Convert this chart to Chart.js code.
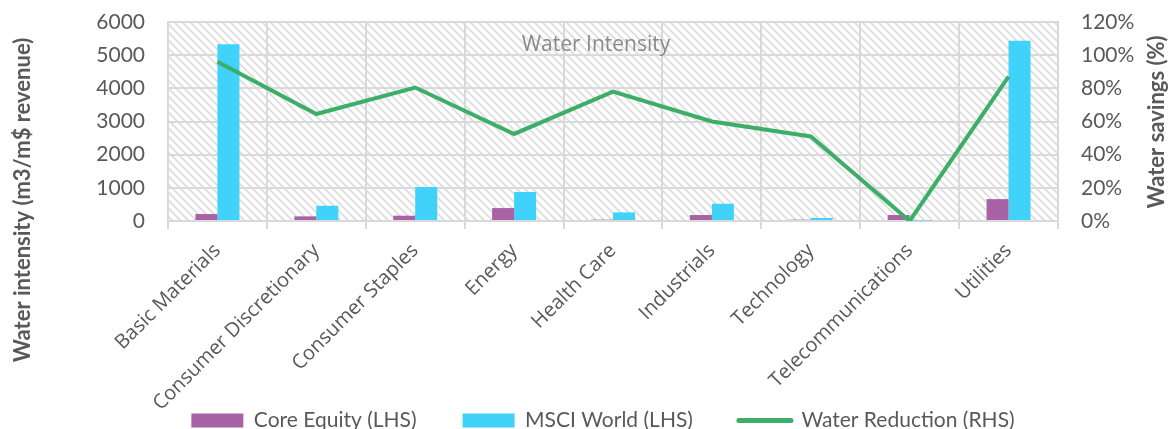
<!DOCTYPE html>
<html>
<head>
<meta charset="utf-8">
<script src="https://cdn.jsdelivr.net/npm/chart.js@4/dist/chart.umd.min.js"></script>
<style>
  html, body { margin: 0; padding: 0; background: #ffffff; }
  #wrap { width: 1170px; height: 429px; position: relative; }
</style>
</head>
<body>
<div id="wrap"><canvas id="chart" width="1170" height="429"></canvas></div>
<script>
// Sector categories
const sectors = [
  'Basic Materials', 'Consumer Discretionary', 'Consumer Staples', 'Energy',
  'Health Care', 'Industrials', 'Technology', 'Telecommunications', 'Utilities'
];
// Water intensity, m3 per m$ revenue (left axis)
const coreEquity = [210, 140, 160, 390, 40, 180, 40, 180, 660];
const msciWorld = [5330, 460, 1025, 875, 260, 520, 90, 15, 5435];
// Water savings, percent (right axis)
const waterReduction = [96, 64.5, 80.5, 52.5, 78, 60, 51, 0, 87];
// Axis tick values
const leftTicks = [0, 1000, 2000, 3000, 4000, 5000, 6000];
const rightTicks = [0, 20, 40, 60, 80, 100, 120];

const seriesNames = ['Core Equity (LHS)', 'MSCI World (LHS)', 'Water Reduction (RHS)'];
const chartTitle = 'Water Intensity';
const leftTitle = 'Water intensity (m3/m$ revenue)';
const rightTitle = 'Water savings (%)';

const PURPLE = '#a862a6';
const CYAN = '#40d2f9';
const GREEN = '#3dae68';
const GRID = '#d9d9d9';
const TEXT = '#595959';

// Diagonal hatch fill for the plot background
function hatchPattern(ctx) {
  const size = 8;
  const c = document.createElement('canvas');
  c.width = size; c.height = size;
  const g = c.getContext('2d');
  g.fillStyle = '#ffffff';
  g.fillRect(0, 0, size, size);
  g.strokeStyle = '#dedede';
  g.lineWidth = 1.9;
  g.beginPath();
  g.moveTo(-2, -2); g.lineTo(size + 2, size + 2);
  g.moveTo(-2, size - 2); g.lineTo(2, size + 2);
  g.moveTo(size - 2, -2); g.lineTo(size + 2, 2);
  g.stroke();
  return ctx.createPattern(c, 'repeat');
}

const backdrop = {
  id: 'backdrop',
  afterLayout(chart) {
    // let the rotated category labels use the space beside the legend
    chart.scales.x.bottom = chart.height;
  },
  beforeDraw(chart) {
    const { ctx, chartArea: a } = chart;
    ctx.save();
    ctx.fillStyle = hatchPattern(ctx);
    ctx.fillRect(a.left, a.top, a.right - a.left, a.bottom - a.top);
    ctx.restore();
  },
  afterDraw(chart) {
    const { ctx } = chart;
    ctx.save();
    // in-plot title
    ctx.fillStyle = '#8a8a8a';
    ctx.font = '21px "Open Sans"';
    ctx.textAlign = 'center';
    ctx.textBaseline = 'middle';
    ctx.fillText(chartTitle, 596, 45);
    // axis titles, reading bottom to top
    ctx.fillStyle = TEXT;
    ctx.font = 'bold 22px Lato';
    ctx.translate(23, 200);
    ctx.rotate(-Math.PI / 2);
    ctx.fillText(leftTitle, 0, 0);
    ctx.setTransform(1, 0, 0, 1, 0, 0);
    ctx.translate(1157, 122);
    ctx.rotate(-Math.PI / 2);
    ctx.fillText(rightTitle, 0, 0);
    ctx.restore();
  }
};

const tickFont = { family: 'Lato', size: 21 };

new Chart(document.getElementById('chart'), {
  type: 'bar',
  data: {
    labels: sectors,
    datasets: [
      {
        label: seriesNames[0], data: coreEquity, backgroundColor: PURPLE,
        yAxisID: 'y', order: 1, categoryPercentage: 0.445, barPercentage: 1.0
      },
      {
        label: seriesNames[1], data: msciWorld, backgroundColor: CYAN,
        yAxisID: 'y', order: 1, categoryPercentage: 0.445, barPercentage: 1.0
      },
      {
        type: 'line', label: seriesNames[2], data: waterReduction,
        borderColor: GREEN, backgroundColor: GREEN, borderWidth: 4,
        pointRadius: 0, tension: 0, yAxisID: 'y1', order: 0
      }
    ]
  },
  options: {
    responsive: false,
    animation: false,
    events: [],
    layout: { padding: { left: 36, right: 0, top: 22, bottom: 0 } },
    scales: {
      x: {
        grid: { color: GRID, lineWidth: 2, tickLength: 8, offset: true, drawTicks: true },
        border: { color: GRID, width: 2 },
        ticks: {
          color: TEXT, font: { family: 'Open Sans', size: 20 },
          minRotation: 45, maxRotation: 45, autoSkip: false, padding: 10
        },
        afterFit(scale) { scale.height = 143; }
      },
      y: {
        position: 'left', min: 0, max: 6000,
        afterBuildTicks(scale) { scale.ticks = leftTicks.map(v => ({ value: v })); },
        grid: { color: GRID, lineWidth: 2, drawTicks: true, tickLength: 20, tickColor: 'rgba(0,0,0,0)' },
        border: { color: GRID, width: 2 },
        ticks: { color: TEXT, font: tickFont, padding: 3, callback: v => String(v) },
        afterFit(scale) { scale.width = 132; }
      },
      y1: {
        position: 'right', min: 0, max: 120,
        afterBuildTicks(scale) { scale.ticks = rightTicks.map(v => ({ value: v })); },
        grid: { display: true, drawOnChartArea: false, drawTicks: true, tickLength: 20, tickColor: 'rgba(0,0,0,0)' },
        border: { color: GRID, width: 2 },
        ticks: { color: TEXT, font: tickFont, padding: 3, callback: v => v + '%' },
        afterFit(scale) { scale.width = 112; }
      }
    },
    plugins: {
      title: { display: false },
      tooltip: { enabled: false },
      legend: {
        position: 'bottom',
        maxHeight: 65,
        labels: {
          color: TEXT, font: { family: 'Lato', size: 21 },
          usePointStyle: true, pointStyleWidth: 52, boxWidth: 52, boxHeight: 14,
          padding: 46,
          sort: (a, b) => a.datasetIndex - b.datasetIndex,
          generateLabels(chart) {
            const items = Chart.defaults.plugins.legend.labels.generateLabels(chart);
            items.forEach(it => {
              if (it.datasetIndex === 2) {
                it.pointStyle = 'line';
                it.strokeStyle = GREEN;
                it.lineWidth = 5;
                it.lineCap = 'round';
              } else {
                it.pointStyle = 'rect';
                it.lineWidth = 0;
              }
            });
            return items;
          }
        }
      }
    }
  },
  plugins: [backdrop]
});
</script>
</body>
</html>
